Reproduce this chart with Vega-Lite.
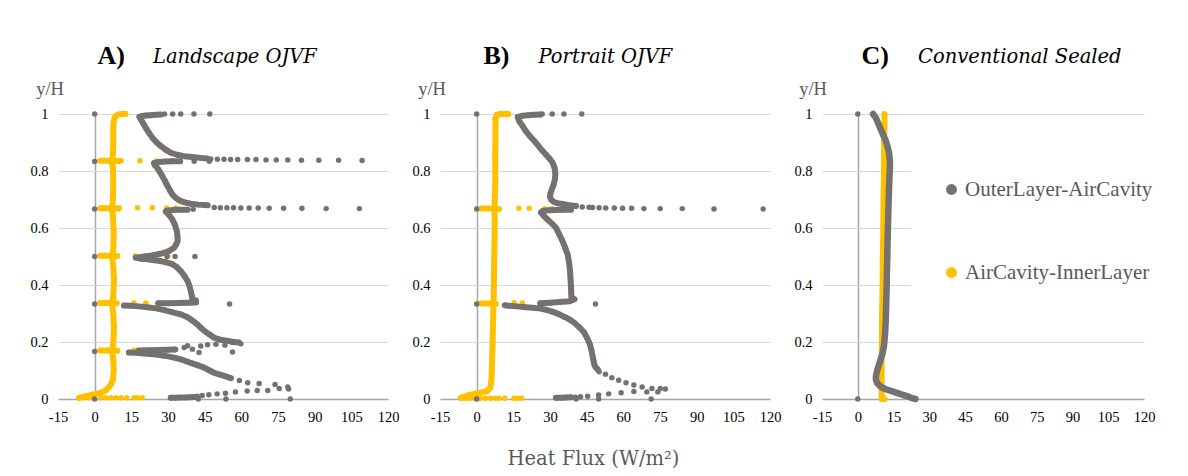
{
"$schema": "https://vega.github.io/schema/vega-lite/v6.json",
"background": "white",
"padding": {"left": 29, "top": 42, "right": 0, "bottom": 8},
"config": {"font": "Liberation Serif", "view": {"stroke": null}, "axis": {"labelFont": "Liberation Serif", "labelFontSize": 14.5, "labelColor": "#000000", "ticks": false, "domain": false, "grid": false, "titleFont": "Liberation Serif"}},
"datasets": {
"A": [
{"s":"I","x":7.8,"y":0.975,"g":"ay0"},{"s":"I","x":8.5,"y":0.993,"g":"ay0"},{"s":"I","x":9.6,"y":0.998,"g":"ay0"},{"s":"I","x":11,"y":1,"g":"ay0"},{"s":"I","x":12.6,"y":1,"g":"ay0"},
{"s":"I","x":7.8,"y":0.975,"g":"ay"},{"s":"I","x":7.6,"y":0.95,"g":"ay"},{"s":"I","x":7.6,"y":0.9,"g":"ay"},{"s":"I","x":7.5,"y":0.86,"g":"ay"},{"s":"I","x":7.2,"y":0.845,"g":"ay"},{"s":"I","x":7.1,"y":0.835,"g":"ay"},{"s":"I","x":7.2,"y":0.825,"g":"ay"},{"s":"I","x":7.5,"y":0.81,"g":"ay"},{"s":"I","x":7.6,"y":0.76,"g":"ay"},{"s":"I","x":7.5,"y":0.7,"g":"ay"},{"s":"I","x":7.2,"y":0.678,"g":"ay"},{"s":"I","x":7.1,"y":0.668,"g":"ay"},{"s":"I","x":7.2,"y":0.658,"g":"ay"},{"s":"I","x":7.5,"y":0.64,"g":"ay"},{"s":"I","x":7.8,"y":0.58,"g":"ay"},{"s":"I","x":7.6,"y":0.52,"g":"ay"},{"s":"I","x":7.2,"y":0.51,"g":"ay"},{"s":"I","x":7.1,"y":0.502,"g":"ay"},{"s":"I","x":7.2,"y":0.494,"g":"ay"},{"s":"I","x":7.6,"y":0.47,"g":"ay"},{"s":"I","x":7.9,"y":0.42,"g":"ay"},{"s":"I","x":7.6,"y":0.355,"g":"ay"},{"s":"I","x":7.2,"y":0.344,"g":"ay"},{"s":"I","x":7.1,"y":0.336,"g":"ay"},{"s":"I","x":7.2,"y":0.328,"g":"ay"},{"s":"I","x":7.6,"y":0.3,"g":"ay"},{"s":"I","x":7.9,"y":0.25,"g":"ay"},{"s":"I","x":7.6,"y":0.19,"g":"ay"},{"s":"I","x":7.2,"y":0.176,"g":"ay"},{"s":"I","x":7.1,"y":0.168,"g":"ay"},{"s":"I","x":7.2,"y":0.16,"g":"ay"},{"s":"I","x":7.6,"y":0.14,"g":"ay"},{"s":"I","x":7.8,"y":0.1,"g":"ay"},{"s":"I","x":7.5,"y":0.07,"g":"ay"},{"s":"I","x":6.6,"y":0.05,"g":"ay"},{"s":"I","x":5.5,"y":0.038,"g":"ay"},{"s":"I","x":4.5,"y":0.03,"g":"ay"},{"s":"I","x":2.5,"y":0.022,"g":"ay"},{"s":"I","x":0.4,"y":0.018,"g":"ay"},{"s":"I","x":-1.5,"y":0.014,"g":"ay"},{"s":"I","x":-3,"y":0.011,"g":"ay"},{"s":"I","x":-5,"y":0.007,"g":"ay"},{"s":"I","x":-6.4,"y":0.004,"g":"ay"},
{"s":"I","x":2.3,"y":0.836,"g":"aj1"},{"s":"I","x":5,"y":0.836,"g":"aj1"},{"s":"I","x":9.8,"y":0.835,"g":"aj1"},
{"s":"I","x":2.3,"y":0.669,"g":"aj2"},{"s":"I","x":5,"y":0.669,"g":"aj2"},{"s":"I","x":9.8,"y":0.668,"g":"aj2"},
{"s":"I","x":2.3,"y":0.503,"g":"aj3"},{"s":"I","x":5,"y":0.503,"g":"aj3"},{"s":"I","x":9.3,"y":0.502,"g":"aj3"},
{"s":"I","x":2.3,"y":0.337,"g":"aj4"},{"s":"I","x":5,"y":0.337,"g":"aj4"},{"s":"I","x":9,"y":0.336,"g":"aj4"},
{"s":"I","x":2.3,"y":0.17,"g":"aj5"},{"s":"I","x":5,"y":0.17,"g":"aj5"},{"s":"I","x":9.3,"y":0.169,"g":"aj5"},
{"s":"I","x":10.8,"y":0.836},{"s":"I","x":18.5,"y":0.836},{"s":"I","x":25.4,"y":0.835},{"s":"I","x":31.1,"y":0.835},{"s":"I","x":35,"y":0.834},
{"s":"I","x":10,"y":0.671},{"s":"I","x":17.5,"y":0.671},{"s":"I","x":23.6,"y":0.671},{"s":"I","x":29.5,"y":0.67},{"s":"I","x":33.2,"y":0.67},
{"s":"I","x":16.6,"y":0.503},{"s":"I","x":21.2,"y":0.503},{"s":"I","x":30,"y":0.502},
{"s":"I","x":16.1,"y":0.338},{"s":"I","x":20.9,"y":0.337},{"s":"I","x":27,"y":0.337},
{"s":"I","x":16.1,"y":0.171},{"s":"I","x":19.5,"y":0.17},
{"s":"I","x":-4.4,"y":0.004},{"s":"I","x":-2.3,"y":0.004},{"s":"I","x":-0.9,"y":0.004},{"s":"I","x":2.5,"y":0.004},{"s":"I","x":4.5,"y":0.004},{"s":"I","x":6.6,"y":0.004},{"s":"I","x":8.6,"y":0.004},{"s":"I","x":10.7,"y":0.004},{"s":"I","x":13.1,"y":0.004},{"s":"I","x":16.1,"y":0.004},{"s":"I","x":17.5,"y":0.004},{"s":"I","x":19.5,"y":0.004},
{"s":"O","x":0,"y":1},{"s":"O","x":0,"y":0.833},{"s":"O","x":0,"y":0.667},{"s":"O","x":0,"y":0.5},{"s":"O","x":0,"y":0.333},{"s":"O","x":0,"y":0.167},{"s":"O","x":0,"y":0},
{"s":"O","x":27,"y":0.998,"g":"a1"},{"s":"O","x":25,"y":0.997,"g":"a1"},{"s":"O","x":23,"y":0.996,"g":"a1"},{"s":"O","x":21,"y":0.995,"g":"a1"},{"s":"O","x":19.3,"y":0.993,"g":"a1"},{"s":"O","x":18.3,"y":0.99,"g":"a1"},{"s":"O","x":19,"y":0.98,"g":"a1"},{"s":"O","x":20,"y":0.965,"g":"a1"},{"s":"O","x":21,"y":0.95,"g":"a1"},{"s":"O","x":22.3,"y":0.933,"g":"a1"},{"s":"O","x":23.6,"y":0.917,"g":"a1"},{"s":"O","x":25.2,"y":0.902,"g":"a1"},{"s":"O","x":27,"y":0.888,"g":"a1"},{"s":"O","x":29,"y":0.875,"g":"a1"},{"s":"O","x":31.1,"y":0.864,"g":"a1"},{"s":"O","x":33.7,"y":0.857,"g":"a1"},{"s":"O","x":36.6,"y":0.852,"g":"a1"},{"s":"O","x":40,"y":0.849,"g":"a1"},{"s":"O","x":43.4,"y":0.846,"g":"a1"},{"s":"O","x":46,"y":0.844,"g":"a1"},
{"s":"O","x":28.6,"y":1},{"s":"O","x":31.9,"y":1},{"s":"O","x":35.2,"y":1},{"s":"O","x":40.6,"y":1},{"s":"O","x":47.1,"y":1},
{"s":"O","x":47.5,"y":0.842},{"s":"O","x":50.2,"y":0.841},{"s":"O","x":52.9,"y":0.841},{"s":"O","x":55.6,"y":0.84},{"s":"O","x":58.5,"y":0.84},{"s":"O","x":62.5,"y":0.84},{"s":"O","x":66,"y":0.84},{"s":"O","x":70.1,"y":0.839},{"s":"O","x":74.3,"y":0.839},{"s":"O","x":79,"y":0.839},{"s":"O","x":84.6,"y":0.838},{"s":"O","x":91.7,"y":0.838},{"s":"O","x":99.8,"y":0.838},{"s":"O","x":109.4,"y":0.837},
{"s":"O","x":35,"y":0.834,"g":"a2"},{"s":"O","x":32,"y":0.834,"g":"a2"},{"s":"O","x":29,"y":0.833,"g":"a2"},{"s":"O","x":26.5,"y":0.832,"g":"a2"},{"s":"O","x":24.3,"y":0.828,"g":"a2"},{"s":"O","x":24.6,"y":0.82,"g":"a2"},{"s":"O","x":25.7,"y":0.81,"g":"a2"},{"s":"O","x":26.7,"y":0.796,"g":"a2"},{"s":"O","x":27.7,"y":0.782,"g":"a2"},{"s":"O","x":28.8,"y":0.764,"g":"a2"},{"s":"O","x":29.8,"y":0.747,"g":"a2"},{"s":"O","x":30.8,"y":0.732,"g":"a2"},{"s":"O","x":31.8,"y":0.718,"g":"a2"},{"s":"O","x":33.1,"y":0.706,"g":"a2"},{"s":"O","x":34.6,"y":0.697,"g":"a2"},{"s":"O","x":36.8,"y":0.69,"g":"a2"},{"s":"O","x":39.3,"y":0.685,"g":"a2"},{"s":"O","x":42.5,"y":0.682,"g":"a2"},{"s":"O","x":46.2,"y":0.68,"g":"a2"},
{"s":"O","x":40.7,"y":0.834},{"s":"O","x":46.9,"y":0.834},
{"s":"O","x":48.9,"y":0.672},{"s":"O","x":51.4,"y":0.671},{"s":"O","x":54.1,"y":0.671},{"s":"O","x":56.8,"y":0.671},{"s":"O","x":59.8,"y":0.67},{"s":"O","x":63.2,"y":0.67},{"s":"O","x":66.9,"y":0.67},{"s":"O","x":71.4,"y":0.669},{"s":"O","x":77.3,"y":0.669},{"s":"O","x":84.8,"y":0.669},{"s":"O","x":94.7,"y":0.668},{"s":"O","x":108.3,"y":0.668},
{"s":"O","x":38,"y":0.664,"g":"a3"},{"s":"O","x":35,"y":0.664,"g":"a3"},{"s":"O","x":32,"y":0.663,"g":"a3"},{"s":"O","x":29.5,"y":0.661,"g":"a3"},{"s":"O","x":29.1,"y":0.658,"g":"a3"},{"s":"O","x":30.5,"y":0.645,"g":"a3"},{"s":"O","x":31.8,"y":0.63,"g":"a3"},{"s":"O","x":32.9,"y":0.61,"g":"a3"},{"s":"O","x":33.6,"y":0.589,"g":"a3"},{"s":"O","x":33.9,"y":0.57,"g":"a3"},{"s":"O","x":33.9,"y":0.554,"g":"a3"},{"s":"O","x":33.3,"y":0.541,"g":"a3"},{"s":"O","x":32.5,"y":0.531,"g":"a3"},{"s":"O","x":30.6,"y":0.52,"g":"a3"},{"s":"O","x":28.4,"y":0.513,"g":"a3"},{"s":"O","x":26,"y":0.508,"g":"a3"},{"s":"O","x":23.6,"y":0.504,"g":"a3"},{"s":"O","x":20.2,"y":0.5,"g":"a3"},{"s":"O","x":16.8,"y":0.496,"g":"a3"},{"s":"O","x":19,"y":0.492,"g":"a3"},{"s":"O","x":21.6,"y":0.49,"g":"a3"},{"s":"O","x":24.3,"y":0.487,"g":"a3"},{"s":"O","x":27,"y":0.484,"g":"a3"},{"s":"O","x":29.5,"y":0.479,"g":"a3"},{"s":"O","x":31.8,"y":0.473,"g":"a3"},{"s":"O","x":33.6,"y":0.463,"g":"a3"},{"s":"O","x":35.2,"y":0.449,"g":"a3"},{"s":"O","x":36.7,"y":0.432,"g":"a3"},{"s":"O","x":38,"y":0.414,"g":"a3"},{"s":"O","x":38.8,"y":0.396,"g":"a3"},{"s":"O","x":39.3,"y":0.379,"g":"a3"},{"s":"O","x":39.7,"y":0.364,"g":"a3"},{"s":"O","x":40,"y":0.35,"g":"a3"},{"s":"O","x":41.4,"y":0.346,"g":"a3"},
{"s":"O","x":40.3,"y":0.666},{"s":"O","x":29.6,"y":0.5},{"s":"O","x":32.9,"y":0.5},{"s":"O","x":41,"y":0.5},
{"s":"O","x":26,"y":0.336,"g":"a4u"},{"s":"O","x":30,"y":0.336,"g":"a4u"},{"s":"O","x":34,"y":0.337,"g":"a4u"},{"s":"O","x":38,"y":0.338,"g":"a4u"},{"s":"O","x":41.5,"y":0.339,"g":"a4u"},
{"s":"O","x":12,"y":0.328,"g":"a4"},{"s":"O","x":14.8,"y":0.327,"g":"a4"},{"s":"O","x":18,"y":0.325,"g":"a4"},{"s":"O","x":21.5,"y":0.322,"g":"a4"},{"s":"O","x":25,"y":0.318,"g":"a4"},{"s":"O","x":28.5,"y":0.312,"g":"a4"},{"s":"O","x":32,"y":0.304,"g":"a4"},{"s":"O","x":35.2,"y":0.297,"g":"a4"},{"s":"O","x":38,"y":0.287,"g":"a4"},{"s":"O","x":40.5,"y":0.272,"g":"a4"},{"s":"O","x":42,"y":0.262,"g":"a4"},{"s":"O","x":43.4,"y":0.25,"g":"a4"},{"s":"O","x":45.2,"y":0.237,"g":"a4"},{"s":"O","x":47,"y":0.226,"g":"a4"},{"s":"O","x":48.9,"y":0.215,"g":"a4"},{"s":"O","x":51,"y":0.209,"g":"a4"},{"s":"O","x":54.4,"y":0.204,"g":"a4"},{"s":"O","x":57,"y":0.2,"g":"a4"},{"s":"O","x":59,"y":0.198,"g":"a4"},
{"s":"O","x":55.2,"y":0.333},
{"s":"O","x":18,"y":0.17,"g":"a5u"},{"s":"O","x":22,"y":0.171,"g":"a5u"},{"s":"O","x":26,"y":0.172,"g":"a5u"},{"s":"O","x":30,"y":0.173,"g":"a5u"},{"s":"O","x":33,"y":0.174,"g":"a5u"},
{"s":"O","x":14,"y":0.163,"g":"a5"},{"s":"O","x":17,"y":0.162,"g":"a5"},{"s":"O","x":20,"y":0.16,"g":"a5"},{"s":"O","x":24.3,"y":0.157,"g":"a5"},{"s":"O","x":28.5,"y":0.152,"g":"a5"},{"s":"O","x":32.5,"y":0.145,"g":"a5"},{"s":"O","x":36,"y":0.137,"g":"a5"},{"s":"O","x":39.3,"y":0.127,"g":"a5"},{"s":"O","x":42,"y":0.119,"g":"a5"},{"s":"O","x":44.8,"y":0.11,"g":"a5"},{"s":"O","x":47,"y":0.1,"g":"a5"},{"s":"O","x":48.9,"y":0.092,"g":"a5"},{"s":"O","x":51,"y":0.086,"g":"a5"},{"s":"O","x":53,"y":0.081,"g":"a5"},{"s":"O","x":55.7,"y":0.073,"g":"a5"},
{"s":"O","x":36.6,"y":0.181},{"s":"O","x":38,"y":0.187},{"s":"O","x":40,"y":0.175},{"s":"O","x":43.4,"y":0.186},{"s":"O","x":46.2,"y":0.19},{"s":"O","x":49.6,"y":0.192},{"s":"O","x":53.3,"y":0.189},{"s":"O","x":56.4,"y":0.198},{"s":"O","x":59.8,"y":0.194},{"s":"O","x":42.7,"y":0.163},{"s":"O","x":56.4,"y":0.165},
{"s":"O","x":59.2,"y":0.065},{"s":"O","x":62.6,"y":0.057},{"s":"O","x":67.3,"y":0.054},{"s":"O","x":70.8,"y":0.03},{"s":"O","x":73.8,"y":0.051},{"s":"O","x":75.5,"y":0.037},{"s":"O","x":79,"y":0.042},{"s":"O","x":79.3,"y":0.035},{"s":"O","x":80,"y":0},
{"s":"O","x":31.1,"y":0.004,"g":"a6"},{"s":"O","x":33,"y":0.004,"g":"a6"},{"s":"O","x":35,"y":0.005,"g":"a6"},{"s":"O","x":37,"y":0.005,"g":"a6"},{"s":"O","x":39,"y":0.006,"g":"a6"},{"s":"O","x":40.7,"y":0.007,"g":"a6"},
{"s":"O","x":42,"y":0.01},{"s":"O","x":44,"y":0.012},{"s":"O","x":46.7,"y":0.015},{"s":"O","x":50.1,"y":0.018},{"s":"O","x":53.5,"y":0.02},{"s":"O","x":57.6,"y":0.025},{"s":"O","x":62.4,"y":0.028},{"s":"O","x":66.5,"y":0.03},{"s":"O","x":42.4,"y":0},{"s":"O","x":53.7,"y":0}
],
"B": [
{"s":"I","x":7.7,"y":0.985,"g":"by0"},{"s":"I","x":8.3,"y":0.997,"g":"by0"},{"s":"I","x":9.5,"y":1,"g":"by0"},{"s":"I","x":11,"y":1,"g":"by0"},{"s":"I","x":13,"y":1,"g":"by0"},
{"s":"I","x":7.7,"y":0.985,"g":"by"},{"s":"I","x":7.7,"y":0.95,"g":"by"},{"s":"I","x":7.6,"y":0.85,"g":"by"},{"s":"I","x":7.6,"y":0.75,"g":"by"},{"s":"I","x":7.4,"y":0.69,"g":"by"},{"s":"I","x":7.3,"y":0.675,"g":"by"},{"s":"I","x":7.2,"y":0.667,"g":"by"},{"s":"I","x":7.3,"y":0.66,"g":"by"},{"s":"I","x":7.4,"y":0.63,"g":"by"},{"s":"I","x":7.3,"y":0.55,"g":"by"},{"s":"I","x":7.1,"y":0.45,"g":"by"},{"s":"I","x":7,"y":0.36,"g":"by"},{"s":"I","x":6.8,"y":0.342,"g":"by"},{"s":"I","x":6.7,"y":0.334,"g":"by"},{"s":"I","x":6.8,"y":0.325,"g":"by"},{"s":"I","x":6.8,"y":0.3,"g":"by"},{"s":"I","x":6.5,"y":0.2,"g":"by"},{"s":"I","x":6.2,"y":0.1,"g":"by"},{"s":"I","x":6,"y":0.06,"g":"by"},{"s":"I","x":5.6,"y":0.04,"g":"by"},{"s":"I","x":4.3,"y":0.028,"g":"by"},{"s":"I","x":2.5,"y":0.024,"g":"by"},{"s":"I","x":0.9,"y":0.021,"g":"by"},{"s":"I","x":-1.2,"y":0.017,"g":"by"},{"s":"I","x":-3.2,"y":0.014,"g":"by"},{"s":"I","x":-5,"y":0.008,"g":"by"},{"s":"I","x":-6.6,"y":0.004,"g":"by"},
{"s":"I","x":1.8,"y":0.668,"g":"bj1"},{"s":"I","x":5,"y":0.668,"g":"bj1"},{"s":"I","x":9.2,"y":0.667,"g":"bj1"},
{"s":"I","x":1.5,"y":0.335,"g":"bj2"},{"s":"I","x":4,"y":0.335,"g":"bj2"},{"s":"I","x":7.8,"y":0.334,"g":"bj2"},
{"s":"I","x":17.3,"y":0.669},{"s":"I","x":21.5,"y":0.669},{"s":"I","x":27.8,"y":0.668},{"s":"I","x":30.9,"y":0.668},{"s":"I","x":15.3,"y":0.338},{"s":"I","x":18.7,"y":0.337},
{"s":"I","x":-5.3,"y":0.003},{"s":"I","x":-3.9,"y":0.003},{"s":"I","x":-2.5,"y":0.003},{"s":"I","x":-0.4,"y":0.003},{"s":"I","x":1.6,"y":0.003},{"s":"I","x":3.7,"y":0.003},{"s":"I","x":5.7,"y":0.003},{"s":"I","x":7.7,"y":0.003},{"s":"I","x":9.1,"y":0.003},{"s":"I","x":11.5,"y":0.003},{"s":"I","x":15.3,"y":0.003},{"s":"I","x":16.6,"y":0.003},{"s":"I","x":18.4,"y":0.003},
{"s":"O","x":0,"y":1},{"s":"O","x":0,"y":0.667},{"s":"O","x":0,"y":0.333},{"s":"O","x":0,"y":0},
{"s":"O","x":26,"y":0.998,"g":"b1"},{"s":"O","x":23.5,"y":0.997,"g":"b1"},{"s":"O","x":21,"y":0.996,"g":"b1"},{"s":"O","x":18.8,"y":0.994,"g":"b1"},{"s":"O","x":16.8,"y":0.99,"g":"b1"},{"s":"O","x":17.4,"y":0.975,"g":"b1"},{"s":"O","x":18.8,"y":0.958,"g":"b1"},{"s":"O","x":20.1,"y":0.94,"g":"b1"},{"s":"O","x":21.8,"y":0.922,"g":"b1"},{"s":"O","x":23.5,"y":0.906,"g":"b1"},{"s":"O","x":25.2,"y":0.889,"g":"b1"},{"s":"O","x":26.9,"y":0.871,"g":"b1"},{"s":"O","x":28.4,"y":0.857,"g":"b1"},{"s":"O","x":29.7,"y":0.845,"g":"b1"},{"s":"O","x":31,"y":0.83,"g":"b1"},{"s":"O","x":31.9,"y":0.81,"g":"b1"},{"s":"O","x":32.2,"y":0.79,"g":"b1"},{"s":"O","x":32,"y":0.77,"g":"b1"},{"s":"O","x":31.5,"y":0.753,"g":"b1"},{"s":"O","x":30.8,"y":0.737,"g":"b1"},{"s":"O","x":30.2,"y":0.722,"g":"b1"},{"s":"O","x":30,"y":0.71,"g":"b1"},{"s":"O","x":30.5,"y":0.699,"g":"b1"},{"s":"O","x":31.5,"y":0.692,"g":"b1"},{"s":"O","x":33,"y":0.687,"g":"b1"},{"s":"O","x":35.1,"y":0.684,"g":"b1"},{"s":"O","x":37.8,"y":0.68,"g":"b1"},{"s":"O","x":40.6,"y":0.677,"g":"b1"},
{"s":"O","x":26.8,"y":1},{"s":"O","x":30.9,"y":1},{"s":"O","x":35.7,"y":1},{"s":"O","x":43,"y":1},
{"s":"O","x":43.2,"y":0.674},{"s":"O","x":46,"y":0.673},{"s":"O","x":47.4,"y":0.672},{"s":"O","x":50.1,"y":0.671},{"s":"O","x":52.8,"y":0.67},{"s":"O","x":56.3,"y":0.67},{"s":"O","x":59.7,"y":0.669},{"s":"O","x":63.4,"y":0.669},{"s":"O","x":68.4,"y":0.668},{"s":"O","x":75.1,"y":0.668},{"s":"O","x":84.1,"y":0.668},{"s":"O","x":97.1,"y":0.667},{"s":"O","x":117.2,"y":0.667},
{"s":"O","x":38.6,"y":0.664,"g":"b2"},{"s":"O","x":35.5,"y":0.664,"g":"b2"},{"s":"O","x":32.4,"y":0.663,"g":"b2"},{"s":"O","x":29.5,"y":0.662,"g":"b2"},{"s":"O","x":27,"y":0.66,"g":"b2"},{"s":"O","x":26.3,"y":0.654,"g":"b2"},{"s":"O","x":27.5,"y":0.642,"g":"b2"},{"s":"O","x":29,"y":0.63,"g":"b2"},{"s":"O","x":30.7,"y":0.616,"g":"b2"},{"s":"O","x":32.4,"y":0.601,"g":"b2"},{"s":"O","x":33.8,"y":0.578,"g":"b2"},{"s":"O","x":35.1,"y":0.554,"g":"b2"},{"s":"O","x":36.2,"y":0.531,"g":"b2"},{"s":"O","x":37.2,"y":0.508,"g":"b2"},{"s":"O","x":37.8,"y":0.48,"g":"b2"},{"s":"O","x":38.2,"y":0.449,"g":"b2"},{"s":"O","x":38.4,"y":0.42,"g":"b2"},{"s":"O","x":38.6,"y":0.39,"g":"b2"},{"s":"O","x":38.7,"y":0.37,"g":"b2"},{"s":"O","x":38.8,"y":0.355,"g":"b2"},{"s":"O","x":40,"y":0.35,"g":"b2"},{"s":"O","x":38,"y":0.343,"g":"b2"},{"s":"O","x":34,"y":0.34,"g":"b2"},{"s":"O","x":30,"y":0.338,"g":"b2"},{"s":"O","x":26,"y":0.336,"g":"b2"},
{"s":"O","x":11.5,"y":0.329,"g":"b3"},{"s":"O","x":13.2,"y":0.327,"g":"b3"},{"s":"O","x":16.5,"y":0.325,"g":"b3"},{"s":"O","x":20,"y":0.322,"g":"b3"},{"s":"O","x":23,"y":0.32,"g":"b3"},{"s":"O","x":25.5,"y":0.318,"g":"b3"},{"s":"O","x":28.5,"y":0.313,"g":"b3"},{"s":"O","x":31.2,"y":0.306,"g":"b3"},{"s":"O","x":33.8,"y":0.297,"g":"b3"},{"s":"O","x":36.2,"y":0.287,"g":"b3"},{"s":"O","x":38.2,"y":0.278,"g":"b3"},{"s":"O","x":39.9,"y":0.268,"g":"b3"},{"s":"O","x":42.2,"y":0.25,"g":"b3"},{"s":"O","x":44,"y":0.233,"g":"b3"},{"s":"O","x":45.3,"y":0.212,"g":"b3"},{"s":"O","x":46.3,"y":0.192,"g":"b3"},{"s":"O","x":47,"y":0.17,"g":"b3"},{"s":"O","x":47.4,"y":0.151,"g":"b3"},{"s":"O","x":47.8,"y":0.135,"g":"b3"},{"s":"O","x":48.1,"y":0.122,"g":"b3"},{"s":"O","x":48.6,"y":0.112,"g":"b3"},{"s":"O","x":49.5,"y":0.104,"g":"b3"},
{"s":"O","x":48.6,"y":0.333},{"s":"O","x":50.1,"y":0.096},{"s":"O","x":52.7,"y":0.087},{"s":"O","x":55.3,"y":0.075},{"s":"O","x":58.1,"y":0.066},{"s":"O","x":61.1,"y":0.057},{"s":"O","x":64.3,"y":0.049},{"s":"O","x":67.7,"y":0.042},{"s":"O","x":69.6,"y":0.025},{"s":"O","x":71.7,"y":0.037},{"s":"O","x":74.1,"y":0.025},{"s":"O","x":75.1,"y":0.037},{"s":"O","x":77.2,"y":0.035},{"s":"O","x":71.4,"y":0},
{"s":"O","x":32.4,"y":0.004,"g":"b4"},{"s":"O","x":34.5,"y":0.004,"g":"b4"},{"s":"O","x":36.5,"y":0.005,"g":"b4"},{"s":"O","x":38.6,"y":0.006,"g":"b4"},
{"s":"O","x":40.4,"y":0.006},{"s":"O","x":42.5,"y":0.008},{"s":"O","x":45.4,"y":0.01},{"s":"O","x":49.9,"y":0.014},{"s":"O","x":54,"y":0.018},{"s":"O","x":59.1,"y":0.022},{"s":"O","x":64.3,"y":0.026},{"s":"O","x":40.7,"y":0},{"s":"O","x":49.9,"y":0}
],
"C": [
{"s":"I","x":11.2,"y":1,"g":"cy"},{"s":"I","x":11.2,"y":0.97,"g":"cy"},{"s":"I","x":11.1,"y":0.9,"g":"cy"},{"s":"I","x":11,"y":0.8,"g":"cy"},{"s":"I","x":10.8,"y":0.7,"g":"cy"},{"s":"I","x":10.7,"y":0.6,"g":"cy"},{"s":"I","x":10.5,"y":0.5,"g":"cy"},{"s":"I","x":10.4,"y":0.4,"g":"cy"},{"s":"I","x":10.2,"y":0.3,"g":"cy"},{"s":"I","x":10.1,"y":0.2,"g":"cy"},{"s":"I","x":10,"y":0.12,"g":"cy"},{"s":"I","x":10,"y":0.06,"g":"cy"},{"s":"I","x":10,"y":0.02,"g":"cy"},{"s":"I","x":10,"y":0,"g":"cy"},{"s":"I","x":11.3,"y":0,"g":"cy"},
{"s":"O","x":0,"y":1},{"s":"O","x":0,"y":0},
{"s":"O","x":6.4,"y":1,"g":"c1"},{"s":"O","x":7.5,"y":0.988,"g":"c1"},{"s":"O","x":8.5,"y":0.968,"g":"c1"},{"s":"O","x":9.6,"y":0.947,"g":"c1"},{"s":"O","x":10.7,"y":0.926,"g":"c1"},{"s":"O","x":11.7,"y":0.906,"g":"c1"},{"s":"O","x":12.5,"y":0.885,"g":"c1"},{"s":"O","x":13.1,"y":0.865,"g":"c1"},{"s":"O","x":13.4,"y":0.84,"g":"c1"},{"s":"O","x":13.5,"y":0.819,"g":"c1"},{"s":"O","x":13.3,"y":0.78,"g":"c1"},{"s":"O","x":13.1,"y":0.737,"g":"c1"},{"s":"O","x":12.9,"y":0.68,"g":"c1"},{"s":"O","x":12.7,"y":0.62,"g":"c1"},{"s":"O","x":12.5,"y":0.56,"g":"c1"},{"s":"O","x":12.4,"y":0.503,"g":"c1"},{"s":"O","x":12.2,"y":0.44,"g":"c1"},{"s":"O","x":12.1,"y":0.386,"g":"c1"},{"s":"O","x":11.9,"y":0.33,"g":"c1"},{"s":"O","x":11.7,"y":0.269,"g":"c1"},{"s":"O","x":11.4,"y":0.225,"g":"c1"},{"s":"O","x":11,"y":0.187,"g":"c1"},{"s":"O","x":10.3,"y":0.158,"g":"c1"},{"s":"O","x":9.2,"y":0.129,"g":"c1"},{"s":"O","x":8.3,"y":0.105,"g":"c1"},{"s":"O","x":7.6,"y":0.081,"g":"c1"},{"s":"O","x":7.6,"y":0.068,"g":"c1"},{"s":"O","x":8.2,"y":0.055,"g":"c1"},{"s":"O","x":9.6,"y":0.043,"g":"c1"},{"s":"O","x":11.5,"y":0.035,"g":"c1"},{"s":"O","x":14.5,"y":0.027,"g":"c1"},{"s":"O","x":17,"y":0.02,"g":"c1"},{"s":"O","x":19.5,"y":0.013,"g":"c1"},{"s":"O","x":21.4,"y":0.008,"g":"c1"},{"s":"O","x":22.8,"y":0.003,"g":"c1"},{"s":"O","x":24.2,"y":0,"g":"c1"}
]
},
"spacing": 52,
"bounds": "flush",
"resolve": {"scale": {"color": "independent"}},
"hconcat": [
{
"width": 330, "height": 285,
"data": {"name": "A"},
"resolve": {"axis": {"x": "independent", "y": "independent"}},
"layer": [
{"transform": [{"filter": "datum.s == 'I' && isValid(datum.g)"}],
 "mark": {"type": "line", "color": "#FFC000", "strokeWidth": 6, "strokeCap": "round", "strokeJoin": "round"},
 "encoding": {
  "x": {"field": "x", "type": "quantitative", "scale": {"domain": [-15, 120], "nice": false, "zero": false}, "axis": {"orient": "top", "values": [0], "grid": true, "gridColor": "#a6a6a6", "gridWidth": 1.5, "labels": false, "ticks": false, "domain": false, "title": "Landscape OJVF", "titleX": 94.5, "titleY": -52, "titleAlign": "left", "titleBaseline": "alphabetic", "titleFont": "DejaVu Serif", "titleFontStyle": "italic", "titleFontWeight": "normal", "titleFontSize": 19.5, "titleColor": "#000000"}},
  "y": {"field": "y", "type": "quantitative", "scale": {"domain": [0, 1], "nice": false}, "axis": {"orient": "right", "labels": false, "ticks": false, "domain": false, "grid": false, "title": "A)", "titleAngle": 0, "titleX": -291, "titleY": -51, "titleAlign": "left", "titleBaseline": "alphabetic", "titleFontSize": 26, "titleFontWeight": "bold", "titleColor": "#000000"}},
  "detail": {"field": "g"},
  "order": {"value": null}
 }},
{"transform": [{"filter": "datum.s == 'I'"}],
 "mark": {"type": "circle", "size": 30, "opacity": 1},
 "encoding": {
  "x": {"field": "x", "type": "quantitative", "scale": {"domain": [-15, 120], "nice": false, "zero": false}, "axis": {"orient": "bottom", "values": [-15, 0, 15, 30, 45, 60, 75, 90, 105, 120], "labelExpr": "'' + datum.value", "domain": true, "domainColor": "#a6a6a6", "domainWidth": 1.5, "labelPadding": 11, "labelFlush": false, "labelOverlap": false, "title": null}},
  "y": {"field": "y", "type": "quantitative", "scale": {"domain": [0, 1], "nice": false}, "axis": {"orient": "left", "values": [0, 0.2, 0.4, 0.6, 0.8, 1], "labelExpr": "'' + datum.value", "grid": true, "gridColor": "#d9d9d9", "gridWidth": 1, "labelPadding": 10, "labelFlush": false, "title": "y/H", "titleAngle": 0, "titleX": -8.5, "titleY": -26, "titleAlign": "center", "titleBaseline": "middle", "titleFontSize": 18.5, "titleFontWeight": "normal", "titleColor": "#595959"}},
  "color": {"field": "s", "type": "nominal", "scale": {"domain": ["O", "I"], "range": ["#767171", "#FFC000"]}, "legend": null}
 }},
{"transform": [{"filter": "datum.s == 'O' && isValid(datum.g)"}],
 "mark": {"type": "line", "color": "#767171", "strokeWidth": 6, "strokeCap": "round", "strokeJoin": "round"},
 "encoding": {
  "x": {"field": "x", "type": "quantitative", "axis": null},
  "y": {"field": "y", "type": "quantitative", "axis": null},
  "detail": {"field": "g"},
  "order": {"value": null}
 }},
{"transform": [{"filter": "datum.s == 'O'"}],
 "mark": {"type": "circle", "size": 30, "opacity": 1},
 "encoding": {
  "x": {"field": "x", "type": "quantitative", "axis": null},
  "y": {"field": "y", "type": "quantitative", "axis": null},
  "color": {"field": "s", "type": "nominal", "legend": null}
 }}
]
},
{
"width": 330, "height": 285,
"data": {"name": "B"},
"resolve": {"axis": {"x": "independent", "y": "independent"}},
"layer": [
{"transform": [{"filter": "datum.s == 'I' && isValid(datum.g)"}],
 "mark": {"type": "line", "color": "#FFC000", "strokeWidth": 6, "strokeCap": "round", "strokeJoin": "round"},
 "encoding": {
  "x": {"field": "x", "type": "quantitative", "scale": {"domain": [-15, 120], "nice": false, "zero": false}, "axis": {"orient": "top", "values": [0], "grid": true, "gridColor": "#a6a6a6", "gridWidth": 1.5, "labels": false, "ticks": false, "domain": false, "title": "Portrait OJVF", "titleX": 98, "titleY": -52, "titleAlign": "left", "titleBaseline": "alphabetic", "titleFont": "DejaVu Serif", "titleFontStyle": "italic", "titleFontWeight": "normal", "titleFontSize": 19.5, "titleColor": "#000000"}},
  "y": {"field": "y", "type": "quantitative", "scale": {"domain": [0, 1], "nice": false}, "axis": {"orient": "right", "labels": false, "ticks": false, "domain": false, "grid": false, "title": "B)", "titleAngle": 0, "titleX": -287, "titleY": -51, "titleAlign": "left", "titleBaseline": "alphabetic", "titleFontSize": 26, "titleFontWeight": "bold", "titleColor": "#000000"}},
  "detail": {"field": "g"},
  "order": {"value": null}
 }},
{"transform": [{"filter": "datum.s == 'I'"}],
 "mark": {"type": "circle", "size": 30, "opacity": 1},
 "encoding": {
  "x": {"field": "x", "type": "quantitative", "scale": {"domain": [-15, 120], "nice": false, "zero": false}, "axis": {"orient": "bottom", "values": [-15, 0, 15, 30, 45, 60, 75, 90, 105, 120], "labelExpr": "'' + datum.value", "domain": true, "domainColor": "#a6a6a6", "domainWidth": 1.5, "labelPadding": 11, "labelFlush": false, "labelOverlap": false, "title": "Heat Flux (W/m²)", "titleX": 153, "titleY": 65.5, "titleAlign": "center", "titleBaseline": "alphabetic", "titleFont": "DejaVu Serif", "titleFontSize": 19.5, "titleFontWeight": "normal", "titleColor": "#595959"}},
  "y": {"field": "y", "type": "quantitative", "scale": {"domain": [0, 1], "nice": false}, "axis": {"orient": "left", "values": [0, 0.2, 0.4, 0.6, 0.8, 1], "labelExpr": "'' + datum.value", "grid": true, "gridColor": "#d9d9d9", "gridWidth": 1, "labelPadding": 10, "labelFlush": false, "title": "y/H", "titleAngle": 0, "titleX": -8.5, "titleY": -26, "titleAlign": "center", "titleBaseline": "middle", "titleFontSize": 18.5, "titleFontWeight": "normal", "titleColor": "#595959"}},
  "color": {"field": "s", "type": "nominal", "scale": {"domain": ["O", "I"], "range": ["#767171", "#FFC000"]}, "legend": null}
 }},
{"transform": [{"filter": "datum.s == 'O' && isValid(datum.g)"}],
 "mark": {"type": "line", "color": "#767171", "strokeWidth": 6, "strokeCap": "round", "strokeJoin": "round"},
 "encoding": {
  "x": {"field": "x", "type": "quantitative", "axis": null},
  "y": {"field": "y", "type": "quantitative", "axis": null},
  "detail": {"field": "g"},
  "order": {"value": null}
 }},
{"transform": [{"filter": "datum.s == 'O'"}],
 "mark": {"type": "circle", "size": 30, "opacity": 1},
 "encoding": {
  "x": {"field": "x", "type": "quantitative", "axis": null},
  "y": {"field": "y", "type": "quantitative", "axis": null},
  "color": {"field": "s", "type": "nominal", "legend": null}
 }}
]
},
{
"width": 322, "height": 285,
"data": {"name": "C"},
"resolve": {"axis": {"x": "independent", "y": "independent"}},
"layer": [
{"transform": [{"filter": "datum.s == 'I' && isValid(datum.g)"}],
 "mark": {"type": "line", "color": "#FFC000", "strokeWidth": 6, "strokeCap": "round", "strokeJoin": "round"},
 "encoding": {
  "x": {"field": "x", "type": "quantitative", "scale": {"domain": [-15, 120], "nice": false, "zero": false}, "axis": {"orient": "top", "values": [0], "grid": true, "gridColor": "#a6a6a6", "gridWidth": 1.5, "labels": false, "ticks": false, "domain": false, "title": "Conventional Sealed", "titleX": 95.5, "titleY": -52, "titleAlign": "left", "titleBaseline": "alphabetic", "titleFont": "DejaVu Serif", "titleFontStyle": "italic", "titleFontWeight": "normal", "titleFontSize": 19.5, "titleColor": "#000000"}},
  "y": {"field": "y", "type": "quantitative", "scale": {"domain": [0, 1], "nice": false}, "axis": {"orient": "right", "labels": false, "ticks": false, "domain": false, "grid": false, "title": "C)", "titleAngle": 0, "titleX": -283, "titleY": -51, "titleAlign": "left", "titleBaseline": "alphabetic", "titleFontSize": 26, "titleFontWeight": "bold", "titleColor": "#000000"}},
  "detail": {"field": "g"},
  "order": {"value": null}
 }},
{"transform": [{"filter": "datum.s == 'I'"}],
 "mark": {"type": "circle", "size": 30, "opacity": 1},
 "encoding": {
  "x": {"field": "x", "type": "quantitative", "scale": {"domain": [-15, 120], "nice": false, "zero": false}, "axis": {"orient": "bottom", "values": [-15, 0, 15, 30, 45, 60, 75, 90, 105, 120], "labelExpr": "'' + datum.value", "domain": true, "domainColor": "#a6a6a6", "domainWidth": 1.5, "labelPadding": 11, "labelFlush": false, "labelOverlap": false, "title": null}},
  "y": {"field": "y", "type": "quantitative", "scale": {"domain": [0, 1], "nice": false}, "axis": {"orient": "left", "values": [0, 0.2, 0.4, 0.6, 0.8, 1], "labelExpr": "'' + datum.value", "grid": true, "gridColor": "#d9d9d9", "gridWidth": 1, "labelPadding": 10, "labelFlush": false, "title": "y/H", "titleAngle": 0, "titleX": -9.5, "titleY": -26, "titleAlign": "center", "titleBaseline": "middle", "titleFontSize": 18.5, "titleFontWeight": "normal", "titleColor": "#595959"}},
  "color": {"field": "s", "type": "nominal", "scale": {"domain": ["O", "I"], "range": ["#767171", "#FFC000"]}, "legend": {"orient": "none", "legendX": 89, "legendY": 35, "title": null, "direction": "vertical", "symbolType": "circle", "symbolSize": 120, "symbolStrokeWidth": 0, "labelFont": "Liberation Serif", "labelFontSize": 21, "labelColor": "#595959", "labelOffset": 3, "rowPadding": 61, "padding": 30, "fillColor": "white", "labelLimit": 400, "labelExpr": "datum.label == 'O' ? 'OuterLayer-AirCavity' : 'AirCavity-InnerLayer'"}}
 }},
{"transform": [{"filter": "datum.s == 'O' && isValid(datum.g)"}],
 "mark": {"type": "line", "color": "#767171", "strokeWidth": 6.5, "strokeCap": "round", "strokeJoin": "round"},
 "encoding": {
  "x": {"field": "x", "type": "quantitative", "axis": null},
  "y": {"field": "y", "type": "quantitative", "axis": null},
  "detail": {"field": "g"},
  "order": {"value": null}
 }},
{"transform": [{"filter": "datum.s == 'O'"}],
 "mark": {"type": "circle", "size": 30, "opacity": 1},
 "encoding": {
  "x": {"field": "x", "type": "quantitative", "axis": null},
  "y": {"field": "y", "type": "quantitative", "axis": null},
  "color": {"field": "s", "type": "nominal", "legend": {"orient": "none", "legendX": 89, "legendY": 35, "title": null, "direction": "vertical", "symbolType": "circle", "symbolSize": 120, "symbolStrokeWidth": 0, "labelFont": "Liberation Serif", "labelFontSize": 21, "labelColor": "#595959", "labelOffset": 3, "rowPadding": 61, "padding": 30, "fillColor": "white", "labelLimit": 400, "labelExpr": "datum.label == 'O' ? 'OuterLayer-AirCavity' : 'AirCavity-InnerLayer'"}}
 }}
]
}
]
}
